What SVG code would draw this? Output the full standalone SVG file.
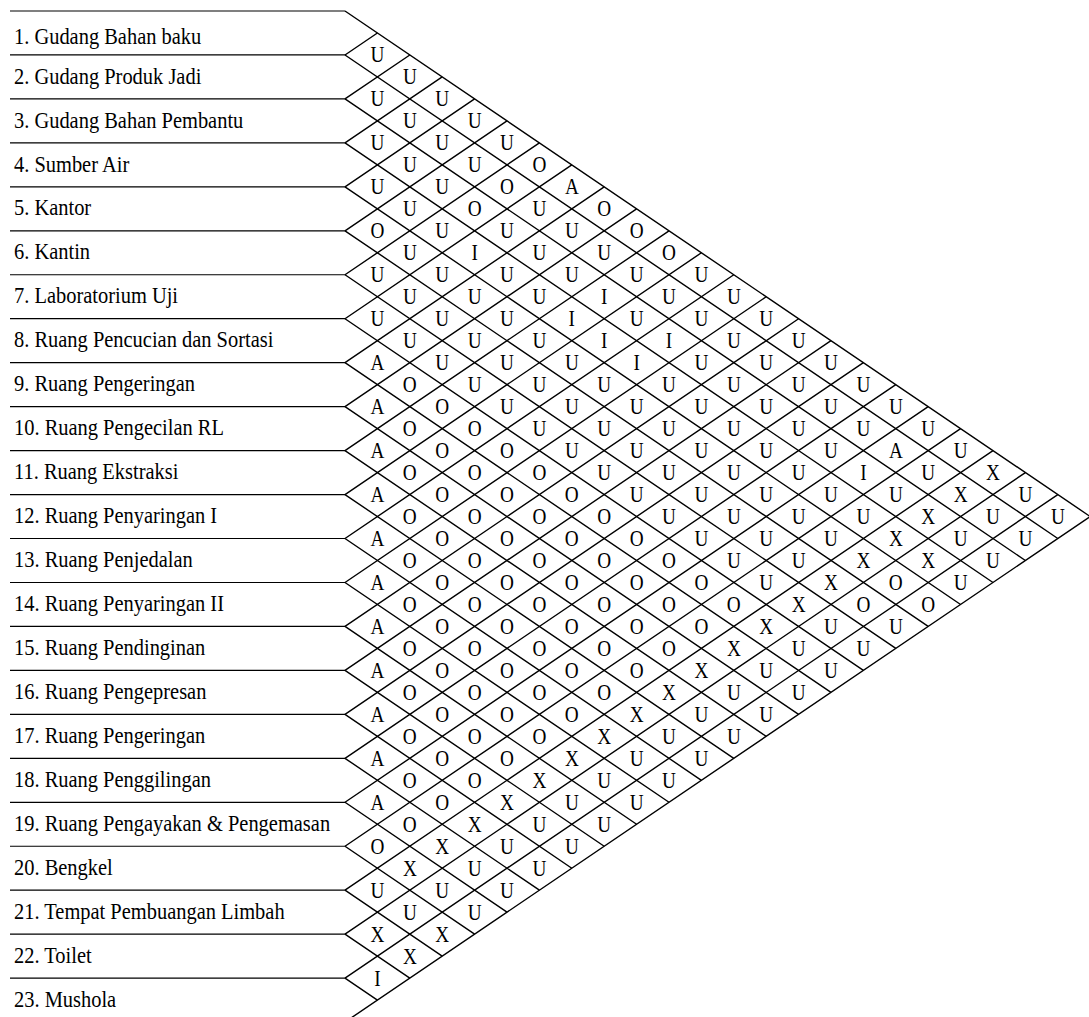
<svg xmlns="http://www.w3.org/2000/svg" width="1089" height="1017" viewBox="0 0 1089 1017">
<style>
.bg{fill:#fff}
.ln{stroke:#000;stroke-width:1.4;fill:none}
.hl{stroke:#000;stroke-width:1.2;fill:none}
.lbl{font-family:"Liberation Serif","Times New Roman",serif;font-size:23.5px;fill:#000;transform-box:fill-box;transform-origin:left center;transform:scaleX(0.87)}
.r text{font-family:"Liberation Serif","Times New Roman",serif;font-size:23.5px;fill:#000;text-anchor:middle;transform-box:fill-box;transform-origin:center;transform:scaleX(0.82)}
</style>
<rect class="bg" x="0" y="0" width="1089" height="1017"/>
<g id="connectors">
<path class="hl" d="M10,11H345M10,54.96H345M10,98.92H345M10,142.88H345M10,186.84H345M10,230.8H345M10,274.76H345M10,318.72H345M10,362.68H345M10,406.64H345M10,450.6H345M10,494.56H345M10,538.52H345M10,582.48H345M10,626.44H345M10,670.4H345M10,714.36H345M10,758.32H345M10,802.28H345M10,846.24H345M10,890.2H345M10,934.16H345M10,978.12H345"/>
<path class="ln" d="M345,11L1090.2,516.54M345,54.96L1057.8,538.52M345,98.92L1025.4,560.5M345,142.88L993,582.48M345,186.84L960.6,604.46M345,230.8L928.2,626.44M345,274.76L895.8,648.42M345,318.72L863.4,670.4M345,362.68L831,692.38M345,406.64L798.6,714.36M345,450.6L766.2,736.34M345,494.56L733.8,758.32M345,538.52L701.4,780.3M345,582.48L669,802.28M345,626.44L636.6,824.26M345,670.4L604.2,846.24M345,714.36L571.8,868.22M345,758.32L539.4,890.2M345,802.28L507,912.18M345,846.24L474.6,934.16M345,890.2L442.2,956.14M345,934.16L409.8,978.12M345,978.12L377.4,1000.1"/>
<path class="ln" d="M345,54.96L377.4,32.98M345,98.92L409.8,54.96M345,142.88L442.2,76.94M345,186.84L474.6,98.92M345,230.8L507,120.9M345,274.76L539.4,142.88M345,318.72L571.8,164.86M345,362.68L604.2,186.84M345,406.64L636.6,208.82M345,450.6L669,230.8M345,494.56L701.4,252.78M345,538.52L733.8,274.76M345,582.48L766.2,296.74M345,626.44L798.6,318.72M345,670.4L831,340.7M345,714.36L863.4,362.68M345,758.32L895.8,384.66M345,802.28L928.2,406.64M345,846.24L960.6,428.62M345,890.2L993,450.6M345,934.16L1025.4,472.58M345,978.12L1057.8,494.56M345,1022.08L1090.2,516.54"/>
</g>
<g id="row-1"><text class="lbl" x="14" y="43.8">1. Gudang Bahan baku</text></g>
<g id="row-2"><text class="lbl" x="14" y="83.6">2. Gudang Produk Jadi</text></g>
<g id="row-3"><text class="lbl" x="14" y="127.6">3. Gudang Bahan Pembantu</text></g>
<g id="row-4"><text class="lbl" x="14" y="171.6">4. Sumber Air</text></g>
<g id="row-5"><text class="lbl" x="14" y="215.5">5. Kantor</text></g>
<g id="row-6"><text class="lbl" x="14" y="259.5">6. Kantin</text></g>
<g id="row-7"><text class="lbl" x="14" y="303.4">7. Laboratorium Uji</text></g>
<g id="row-8"><text class="lbl" x="14" y="347.4">8. Ruang Pencucian dan Sortasi</text></g>
<g id="row-9"><text class="lbl" x="14" y="391.4">9. Ruang Pengeringan</text></g>
<g id="row-10"><text class="lbl" x="14" y="435.3">10. Ruang Pengecilan RL</text></g>
<g id="row-11"><text class="lbl" x="14" y="479.3">11. Ruang Ekstraksi</text></g>
<g id="row-12"><text class="lbl" x="14" y="523.2">12. Ruang Penyaringan I</text></g>
<g id="row-13"><text class="lbl" x="14" y="567.2">13. Ruang Penjedalan</text></g>
<g id="row-14"><text class="lbl" x="14" y="611.2">14. Ruang Penyaringan II</text></g>
<g id="row-15"><text class="lbl" x="14" y="655.1">15. Ruang Pendinginan</text></g>
<g id="row-16"><text class="lbl" x="14" y="699.1">16. Ruang Pengepresan</text></g>
<g id="row-17"><text class="lbl" x="14" y="743">17. Ruang Pengeringan</text></g>
<g id="row-18"><text class="lbl" x="14" y="787">18. Ruang Penggilingan</text></g>
<g id="row-19"><text class="lbl" x="14" y="831">19. Ruang Pengayakan &amp; Pengemasan</text></g>
<g id="row-20"><text class="lbl" x="14" y="874.9">20. Bengkel</text></g>
<g id="row-21"><text class="lbl" x="14" y="918.9">21. Tempat Pembuangan Limbah</text></g>
<g id="row-22"><text class="lbl" x="14" y="962.8">22. Toilet</text></g>
<g id="row-23"><text class="lbl" x="14" y="1006.8">23. Mushola</text></g>
<g id="rel-1" class="r">
<text x="377.4" y="62.5">U</text><text x="409.8" y="84.4">U</text><text x="442.2" y="106.4">U</text><text x="474.6" y="128.4">U</text><text x="507" y="150.4">U</text><text x="539.4" y="172.4">O</text><text x="571.8" y="194.3">A</text><text x="604.2" y="216.3">O</text><text x="636.6" y="238.3">O</text><text x="669" y="260.3">O</text><text x="701.4" y="282.3">U</text><text x="733.8" y="304.2">U</text><text x="766.2" y="326.2">U</text><text x="798.6" y="348.2">U</text><text x="831" y="370.2">U</text><text x="863.4" y="392.2">U</text><text x="895.8" y="414.1">U</text><text x="928.2" y="436.1">U</text><text x="960.6" y="458.1">U</text><text x="993" y="480.1">X</text><text x="1025.4" y="502.1">U</text><text x="1057.8" y="524">U</text>
</g>
<g id="rel-2" class="r" transform="translate(-32.4 21.98)">
<text x="409.8" y="84.4">U</text><text x="442.2" y="106.4">U</text><text x="474.6" y="128.4">U</text><text x="507" y="150.4">U</text><text x="539.4" y="172.4">O</text><text x="571.8" y="194.3">U</text><text x="604.2" y="216.3">U</text><text x="636.6" y="238.3">U</text><text x="669" y="260.3">U</text><text x="701.4" y="282.3">U</text><text x="733.8" y="304.2">U</text><text x="766.2" y="326.2">U</text><text x="798.6" y="348.2">U</text><text x="831" y="370.2">U</text><text x="863.4" y="392.2">U</text><text x="895.8" y="414.1">U</text><text x="928.2" y="436.1">A</text><text x="960.6" y="458.1">U</text><text x="993" y="480.1">X</text><text x="1025.4" y="502.1">U</text><text x="1057.8" y="524">U</text>
</g>
<g id="rel-3" class="r" transform="translate(-64.8 43.96)">
<text x="442.2" y="106.4">U</text><text x="474.6" y="128.4">U</text><text x="507" y="150.4">U</text><text x="539.4" y="172.4">O</text><text x="571.8" y="194.3">U</text><text x="604.2" y="216.3">U</text><text x="636.6" y="238.3">U</text><text x="669" y="260.3">I</text><text x="701.4" y="282.3">U</text><text x="733.8" y="304.2">I</text><text x="766.2" y="326.2">U</text><text x="798.6" y="348.2">U</text><text x="831" y="370.2">U</text><text x="863.4" y="392.2">U</text><text x="895.8" y="414.1">U</text><text x="928.2" y="436.1">I</text><text x="960.6" y="458.1">U</text><text x="993" y="480.1">X</text><text x="1025.4" y="502.1">U</text><text x="1057.8" y="524">U</text>
</g>
<g id="rel-4" class="r" transform="translate(-97.2 65.94)">
<text x="474.6" y="128.4">U</text><text x="507" y="150.4">U</text><text x="539.4" y="172.4">U</text><text x="571.8" y="194.3">I</text><text x="604.2" y="216.3">U</text><text x="636.6" y="238.3">U</text><text x="669" y="260.3">I</text><text x="701.4" y="282.3">I</text><text x="733.8" y="304.2">I</text><text x="766.2" y="326.2">U</text><text x="798.6" y="348.2">U</text><text x="831" y="370.2">U</text><text x="863.4" y="392.2">U</text><text x="895.8" y="414.1">U</text><text x="928.2" y="436.1">U</text><text x="960.6" y="458.1">U</text><text x="993" y="480.1">X</text><text x="1025.4" y="502.1">X</text><text x="1057.8" y="524">U</text>
</g>
<g id="rel-5" class="r" transform="translate(-129.6 87.92)">
<text x="507" y="150.4">O</text><text x="539.4" y="172.4">U</text><text x="571.8" y="194.3">U</text><text x="604.2" y="216.3">U</text><text x="636.6" y="238.3">U</text><text x="669" y="260.3">U</text><text x="701.4" y="282.3">U</text><text x="733.8" y="304.2">U</text><text x="766.2" y="326.2">U</text><text x="798.6" y="348.2">U</text><text x="831" y="370.2">U</text><text x="863.4" y="392.2">U</text><text x="895.8" y="414.1">U</text><text x="928.2" y="436.1">U</text><text x="960.6" y="458.1">U</text><text x="993" y="480.1">X</text><text x="1025.4" y="502.1">O</text><text x="1057.8" y="524">O</text>
</g>
<g id="rel-6" class="r" transform="translate(-162 109.9)">
<text x="539.4" y="172.4">U</text><text x="571.8" y="194.3">U</text><text x="604.2" y="216.3">U</text><text x="636.6" y="238.3">U</text><text x="669" y="260.3">U</text><text x="701.4" y="282.3">U</text><text x="733.8" y="304.2">U</text><text x="766.2" y="326.2">U</text><text x="798.6" y="348.2">U</text><text x="831" y="370.2">U</text><text x="863.4" y="392.2">U</text><text x="895.8" y="414.1">U</text><text x="928.2" y="436.1">U</text><text x="960.6" y="458.1">U</text><text x="993" y="480.1">X</text><text x="1025.4" y="502.1">O</text><text x="1057.8" y="524">U</text>
</g>
<g id="rel-7" class="r" transform="translate(-194.4 131.88)">
<text x="571.8" y="194.3">U</text><text x="604.2" y="216.3">U</text><text x="636.6" y="238.3">U</text><text x="669" y="260.3">U</text><text x="701.4" y="282.3">U</text><text x="733.8" y="304.2">U</text><text x="766.2" y="326.2">U</text><text x="798.6" y="348.2">U</text><text x="831" y="370.2">U</text><text x="863.4" y="392.2">U</text><text x="895.8" y="414.1">U</text><text x="928.2" y="436.1">U</text><text x="960.6" y="458.1">U</text><text x="993" y="480.1">X</text><text x="1025.4" y="502.1">U</text><text x="1057.8" y="524">U</text>
</g>
<g id="rel-8" class="r" transform="translate(-226.8 153.86)">
<text x="604.2" y="216.3">A</text><text x="636.6" y="238.3">O</text><text x="669" y="260.3">O</text><text x="701.4" y="282.3">O</text><text x="733.8" y="304.2">O</text><text x="766.2" y="326.2">O</text><text x="798.6" y="348.2">O</text><text x="831" y="370.2">O</text><text x="863.4" y="392.2">O</text><text x="895.8" y="414.1">O</text><text x="928.2" y="436.1">O</text><text x="960.6" y="458.1">O</text><text x="993" y="480.1">X</text><text x="1025.4" y="502.1">U</text><text x="1057.8" y="524">U</text>
</g>
<g id="rel-9" class="r" transform="translate(-259.2 175.84)">
<text x="636.6" y="238.3">A</text><text x="669" y="260.3">O</text><text x="701.4" y="282.3">O</text><text x="733.8" y="304.2">O</text><text x="766.2" y="326.2">O</text><text x="798.6" y="348.2">O</text><text x="831" y="370.2">O</text><text x="863.4" y="392.2">O</text><text x="895.8" y="414.1">O</text><text x="928.2" y="436.1">O</text><text x="960.6" y="458.1">O</text><text x="993" y="480.1">X</text><text x="1025.4" y="502.1">U</text><text x="1057.8" y="524">U</text>
</g>
<g id="rel-10" class="r" transform="translate(-291.6 197.82)">
<text x="669" y="260.3">A</text><text x="701.4" y="282.3">O</text><text x="733.8" y="304.2">O</text><text x="766.2" y="326.2">O</text><text x="798.6" y="348.2">O</text><text x="831" y="370.2">O</text><text x="863.4" y="392.2">O</text><text x="895.8" y="414.1">O</text><text x="928.2" y="436.1">O</text><text x="960.6" y="458.1">O</text><text x="993" y="480.1">X</text><text x="1025.4" y="502.1">U</text><text x="1057.8" y="524">U</text>
</g>
<g id="rel-11" class="r" transform="translate(-324 219.8)">
<text x="701.4" y="282.3">A</text><text x="733.8" y="304.2">O</text><text x="766.2" y="326.2">O</text><text x="798.6" y="348.2">O</text><text x="831" y="370.2">O</text><text x="863.4" y="392.2">O</text><text x="895.8" y="414.1">O</text><text x="928.2" y="436.1">O</text><text x="960.6" y="458.1">O</text><text x="993" y="480.1">X</text><text x="1025.4" y="502.1">U</text><text x="1057.8" y="524">U</text>
</g>
<g id="rel-12" class="r" transform="translate(-356.4 241.78)">
<text x="733.8" y="304.2">A</text><text x="766.2" y="326.2">O</text><text x="798.6" y="348.2">O</text><text x="831" y="370.2">O</text><text x="863.4" y="392.2">O</text><text x="895.8" y="414.1">O</text><text x="928.2" y="436.1">O</text><text x="960.6" y="458.1">O</text><text x="993" y="480.1">X</text><text x="1025.4" y="502.1">U</text><text x="1057.8" y="524">U</text>
</g>
<g id="rel-13" class="r" transform="translate(-388.8 263.76)">
<text x="766.2" y="326.2">A</text><text x="798.6" y="348.2">O</text><text x="831" y="370.2">O</text><text x="863.4" y="392.2">O</text><text x="895.8" y="414.1">O</text><text x="928.2" y="436.1">O</text><text x="960.6" y="458.1">O</text><text x="993" y="480.1">X</text><text x="1025.4" y="502.1">U</text><text x="1057.8" y="524">U</text>
</g>
<g id="rel-14" class="r" transform="translate(-421.2 285.74)">
<text x="798.6" y="348.2">A</text><text x="831" y="370.2">O</text><text x="863.4" y="392.2">O</text><text x="895.8" y="414.1">O</text><text x="928.2" y="436.1">O</text><text x="960.6" y="458.1">O</text><text x="993" y="480.1">X</text><text x="1025.4" y="502.1">U</text><text x="1057.8" y="524">U</text>
</g>
<g id="rel-15" class="r" transform="translate(-453.6 307.72)">
<text x="831" y="370.2">A</text><text x="863.4" y="392.2">O</text><text x="895.8" y="414.1">O</text><text x="928.2" y="436.1">O</text><text x="960.6" y="458.1">O</text><text x="993" y="480.1">X</text><text x="1025.4" y="502.1">U</text><text x="1057.8" y="524">U</text>
</g>
<g id="rel-16" class="r" transform="translate(-486 329.7)">
<text x="863.4" y="392.2">A</text><text x="895.8" y="414.1">O</text><text x="928.2" y="436.1">O</text><text x="960.6" y="458.1">O</text><text x="993" y="480.1">X</text><text x="1025.4" y="502.1">U</text><text x="1057.8" y="524">U</text>
</g>
<g id="rel-17" class="r" transform="translate(-518.4 351.68)">
<text x="895.8" y="414.1">A</text><text x="928.2" y="436.1">O</text><text x="960.6" y="458.1">O</text><text x="993" y="480.1">X</text><text x="1025.4" y="502.1">U</text><text x="1057.8" y="524">U</text>
</g>
<g id="rel-18" class="r" transform="translate(-550.8 373.66)">
<text x="928.2" y="436.1">A</text><text x="960.6" y="458.1">O</text><text x="993" y="480.1">X</text><text x="1025.4" y="502.1">U</text><text x="1057.8" y="524">U</text>
</g>
<g id="rel-19" class="r" transform="translate(-583.2 395.64)">
<text x="960.6" y="458.1">O</text><text x="993" y="480.1">X</text><text x="1025.4" y="502.1">U</text><text x="1057.8" y="524">U</text>
</g>
<g id="rel-20" class="r" transform="translate(-615.6 417.62)">
<text x="993" y="480.1">U</text><text x="1025.4" y="502.1">U</text><text x="1057.8" y="524">X</text>
</g>
<g id="rel-21" class="r" transform="translate(-648 439.6)">
<text x="1025.4" y="502.1">X</text><text x="1057.8" y="524">X</text>
</g>
<g id="rel-22" class="r" transform="translate(-680.4 461.58)">
<text x="1057.8" y="524">I</text>
</g>
</svg>
